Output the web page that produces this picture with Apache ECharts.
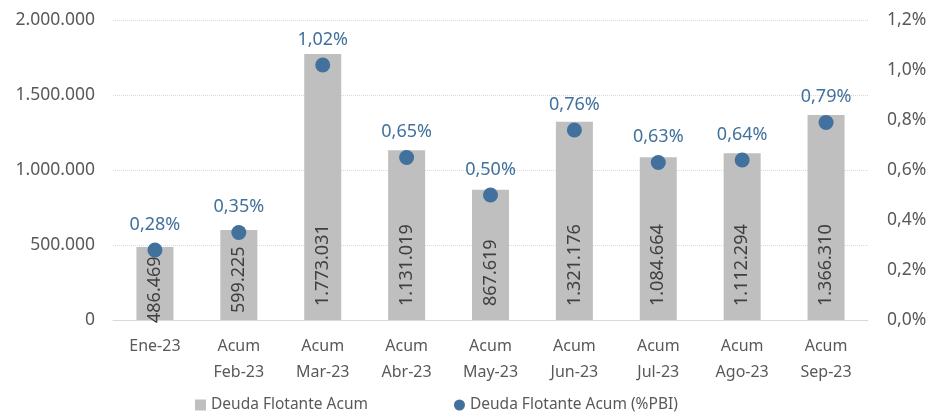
<!DOCTYPE html>
<html>
<head>
<meta charset="utf-8">
<script src="https://cdn.jsdelivr.net/npm/echarts@6/dist/echarts.min.js"></script>
<style>
  html, body { margin: 0; padding: 0; background: #fff; }
  #chart { width: 931px; height: 419px; }
</style>
</head>
<body>
<div id="chart"></div>
<script>
// datos
const categorias = ['Ene-23', 'Acum\nFeb-23', 'Acum\nMar-23', 'Acum\nAbr-23', 'Acum\nMay-23',
  'Acum\nJun-23', 'Acum\nJul-23', 'Acum\nAgo-23', 'Acum\nSep-23']
const deudaAcum = [486469, 599225, 1773031, 1131019, 867619, 1321176, 1084664, 1112294, 1366310]
const deudaPbi = [0.28, 0.35, 1.02, 0.65, 0.50, 0.76, 0.63, 0.64, 0.79]

const miles = v => String(Math.round(v)).replace(/\B(?=(\d{3})+(?!\d))/g, '.')
const pct = (v, d) => v.toFixed(d).replace('.', ',') + '%'

const font = '"Noto Sans", "Open Sans", sans-serif'
const gris = '#595959'
const azul = '#41719c'

// las barras bajas llevan la etiqueta mas abajo, como en Excel
const barras = deudaAcum.map((v, i) => {
  if (i === 0) return { value: v, label: { distance: -3 } }
  if (i === 1) return { value: v, label: { distance: 7 } }
  return v
})

var chartDom = document.getElementById('chart');
var myChart = echarts.init(chartDom);
const option = {
  textStyle: { fontFamily: font },
  animation: false,
  grid: { left: 113, right: 63, top: 20, bottom: 99 },
  legend: {
    bottom: 1,
    left: 190,
    itemGap: 86,
    itemWidth: 11,
    itemHeight: 11,
    textStyle: { color: gris, fontSize: 15.5, fontFamily: font },
    data: [
      { name: 'Deuda Flotante Acum', icon: 'rect' },
      { name: 'Deuda Flotante Acum (%PBI)', icon: 'circle' }
    ]
  },
  xAxis: {
    type: 'category',
    data: categorias,
    axisTick: { show: false },
    axisLine: { lineStyle: { color: '#d9d9d9' } },
    axisLabel: { color: gris, fontSize: 16, margin: 13, lineHeight: 26, fontFamily: font }
  },
  yAxis: [
    {
      type: 'value',
      min: 0,
      max: 2000000,
      interval: 500000,
      axisLabel: { color: gris, fontSize: 17.5, margin: 18, formatter: v => miles(v), fontFamily: font },
      splitLine: { lineStyle: { color: '#d9d9d9', type: 'dotted' } }
    },
    {
      type: 'value',
      min: 0,
      max: 1.2,
      interval: 0.2,
      axisLabel: { color: gris, fontSize: 17.5, margin: 19, formatter: v => pct(v, 1), fontFamily: font },
      splitLine: { show: false }
    }
  ],
  series: [
    {
      name: 'Deuda Flotante Acum',
      type: 'bar',
      data: barras,
      barWidth: 37,
      itemStyle: { color: '#bfbfbf' },
      label: {
        show: true,
        position: 'insideBottom',
        rotate: 90,
        align: 'left',
        verticalAlign: 'middle',
        distance: 14,
        color: '#404040',
        fontSize: 18,
        fontFamily: font,
        formatter: p => miles(p.value)
      }
    },
    {
      name: 'Deuda Flotante Acum (%PBI)',
      type: 'scatter',
      yAxisIndex: 1,
      data: deudaPbi,
      symbolSize: 15,
      itemStyle: { color: azul, opacity: 1 },
      z: 3,
      label: {
        show: true,
        position: 'top',
        distance: 9,
        color: azul,
        fontSize: 18,
        fontFamily: font,
        formatter: p => pct(p.value, 2)
      }
    }
  ]
}
option && myChart.setOption(option);
</script>
</body>
</html>
